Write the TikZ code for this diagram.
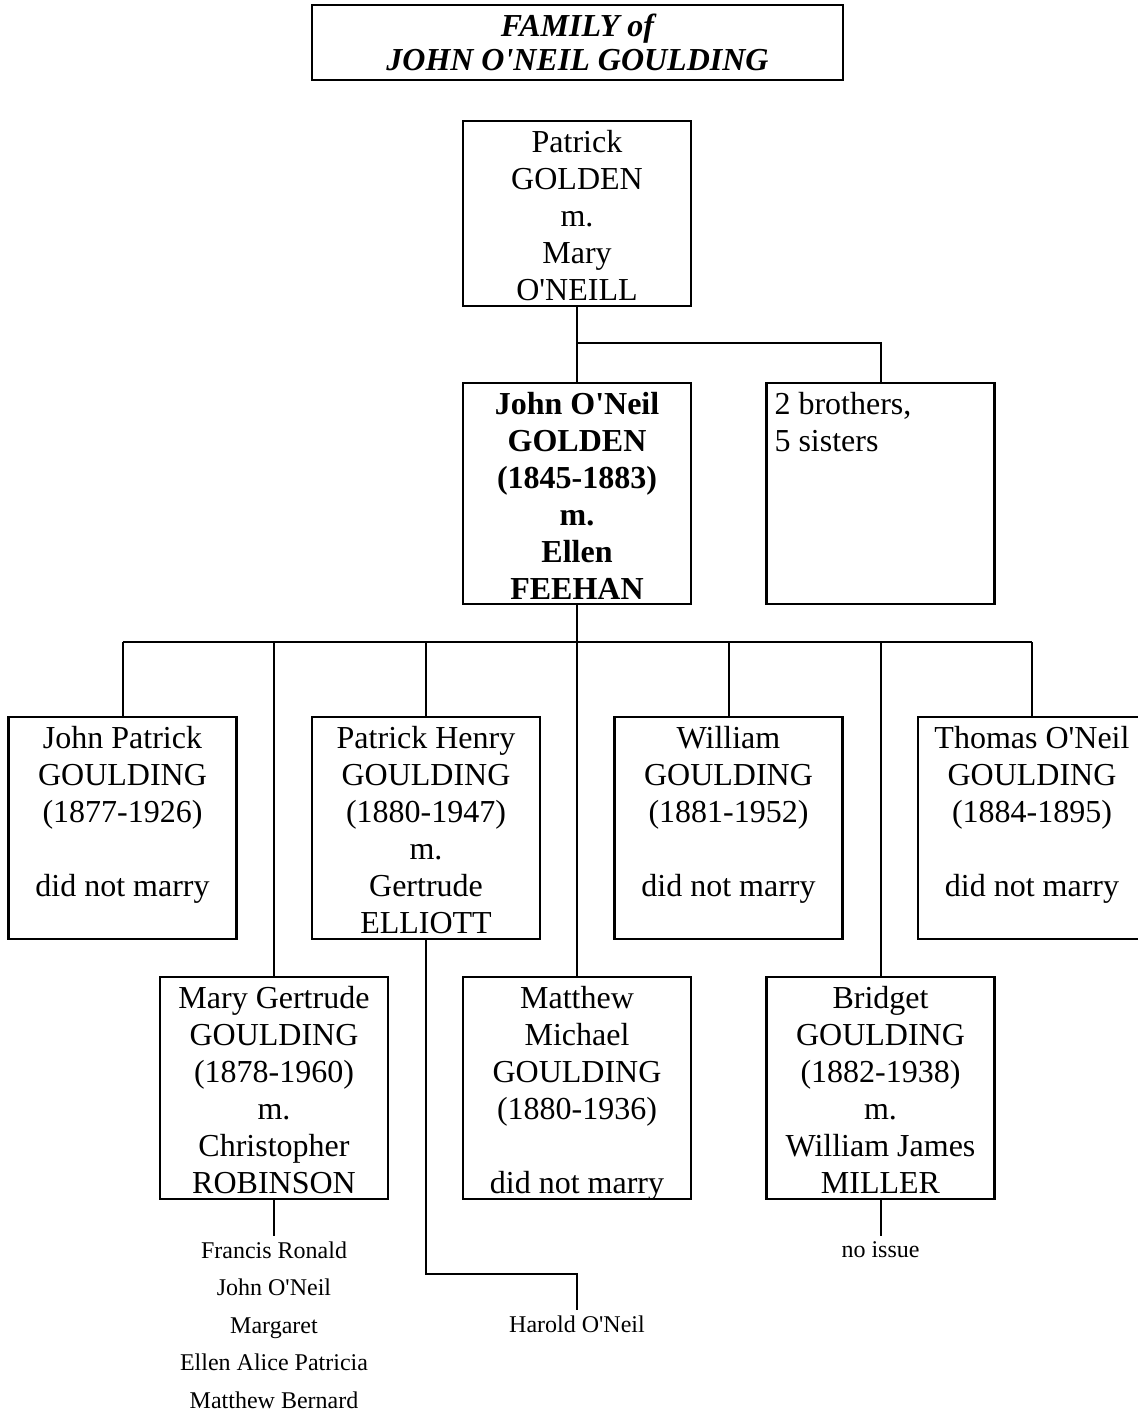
\documentclass[tikz,border=0pt]{standalone}
\usepackage{fontspec}
\setmainfont{Liberation Serif}[Ligatures=TeXOff]
\usepackage{tikz}
\tikzset{
  famb/.style={draw, line width=1.1pt, inner sep=0pt, anchor=north,
    font=\fontsize{16pt}{18.5pt}\selectfont,
    execute at begin node={\begin{minipage}[c][#1][t]{114pt}\centering\vspace*{4.5pt}},
    execute at end node={\end{minipage}}},
  sibb/.style={draw, line width=1.1pt, inner sep=0pt, anchor=north,
    font=\fontsize{16pt}{18.5pt}\selectfont,
    execute at begin node={\begin{minipage}[c][#1][t]{114pt}\raggedright\leftskip=4pt\vspace*{4.5pt}},
    execute at end node={\end{minipage}}},
  titleb/.style={draw, line width=1.1pt, inner sep=0pt, align=center,
    minimum width=265.5pt, minimum height=37.5pt,
    font=\fontsize{16pt}{17pt}\selectfont\bfseries\itshape},
  kidtext/.style={align=center, inner sep=2.5pt, anchor=north,
    font=\fontsize{12pt}{18.75pt}\selectfont},
  link/.style={line width=1pt}
}

\begin{document}
\begin{tikzpicture}[x=0.5pt, y=-0.5pt]
    \clip (0,0) rectangle (1138,1411);

    % Title
    \node[titleb] (title) at (577.5,42.5) {FAMILY of\\JOHN O'NEIL GOULDING};

    % Parents and siblings
    \node[famb=92.5pt] (pat) at (577,120) {Patrick\\GOLDEN\\m.\\Mary\\O'NEILL};
    \node[famb=110.5pt] (john) at (577,382) {\bfseries John O'Neil\\GOLDEN\\(1845-1883)\\m.\\Ellen\\FEEHAN};
    \node[sibb=110.5pt] (sibs) at (880.5,382) {2 brothers,\\5 sisters};

    \coordinate (sibbus) at (577,343);
    \draw[link] (pat.south) -- (john.north);
    \draw[link] (sibbus) -| (sibs.north);

    % Children, first row
    \node[famb=111pt] (jp) at (122.5,716) {John Patrick\\GOULDING\\(1877-1926)\\[18.5pt]did not marry};
    \node[famb=111pt] (ph) at (426,716) {Patrick Henry\\GOULDING\\(1880-1947)\\m.\\Gertrude\\ELLIOTT};
    \node[famb=111pt] (wm) at (728.5,716) {William\\GOULDING\\(1881-1952)\\[18.5pt]did not marry};
    \node[famb=111pt] (tom) at (1032,716) {Thomas O'Neil\\GOULDING\\(1884-1895)\\[18.5pt]did not marry};

    % Children, second row
    \node[famb=111pt] (mg) at (274,976) {Mary Gertrude\\GOULDING\\(1878-1960)\\m.\\Christopher\\ROBINSON};
    \node[famb=111pt] (mm) at (577,976) {Matthew\\Michael\\GOULDING\\(1880-1936)\\[18.5pt]did not marry};
    \node[famb=111pt] (bg) at (880.5,976) {Bridget\\GOULDING\\(1882-1938)\\m.\\William James\\MILLER};

    % Bus to the children
    \coordinate (bus) at (577,642);
    \draw[link] (jp.north |- bus) -- (tom.north |- bus);
    \draw[link] (john.south) -- (john.south |- bus);
    \foreach \kid in {jp, ph, wm, tom, mg, mm, bg}
        \draw[link] (\kid.north) -- (\kid.north |- bus);

    % Grandchildren
    \node[kidtext] (mgkids) at (274,1236) {Francis Ronald\\John O'Neil\\Margaret\\Ellen Alice Patricia\\Matthew Bernard};
    \node[kidtext] (harold) at (577,1310) {Harold O'Neil};
    \node[kidtext] (noissue) at (880.5,1236) {no issue};

    \coordinate (hbend) at (577,1274);
    \draw[link] (mg.south) -- (mgkids.north);
    \draw[link] (ph.south) |- (hbend) -- (harold.north);
    \draw[link] (bg.south) -- (noissue.north);
\end{tikzpicture}
\end{document}
